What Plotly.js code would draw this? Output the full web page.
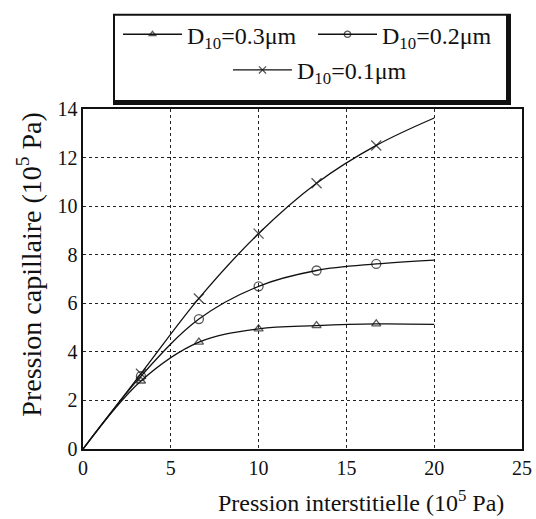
<!DOCTYPE html>
<html><head><meta charset="utf-8">
<script src="https://cdn.plot.ly/plotly-3.0.1.min.js"></script>
<style>body{margin:0;background:#fff}#c{width:536px;height:519px}</style>
</head><body><div id="c"></div>
<script>
// Data
const xPts = [0, 3.3, 6.6, 10, 13.3, 16.7, 20];
const y03 = [0, 2.8, 4.4, 4.95, 5.08, 5.15, 5.13];
const y02 = [0, 3.0, 5.35, 6.7, 7.35, 7.62, 7.78];
const y01 = [0, 3.1, 6.2, 8.87, 10.94, 12.5, 13.63];
const names = ["D<sub>10</sub>=0.3μm", "D<sub>10</sub>=0.2μm", "D<sub>10</sub>=0.1μm"];
const symbols = ["triangle-up-open", "circle-open", "x-thin-open"];
const markerShown = [0, 1, 1, 1, 1, 1, 0];
const xTitle = "Pression interstitielle (10<sup>5</sup> Pa)";
const yTitle = "Pression capillaire (10<sup>5</sup> Pa)";

const font = "Liberation Serif";
const series = [y03, y02, y01];
const legendIds = ["legend", "legend2", "legend3"];
const mSizes = [8, 9, 10];
const traces = series.map((ys, i) => ({
  x: xPts, y: ys, name: names[i], type: "scatter", mode: "lines+markers",
  line: {color: "#111", width: 1.3, shape: "spline", smoothing: 1},
  marker: {symbol: symbols[i], size: markerShown.map(v => v * mSizes[i]), color: "#111",
           line: {color: "#111", width: 1.3}},
  legend: legendIds[i]
}));

const W = 536, H = 519, L = 83, R = 14, T = 106, B = 70;
const pw = W - L - R, ph = H - T - B;
const px = v => (v - L) / pw;
const py = v => (H - B - v) / ph;

const legStyle = (x, y) => ({
  orientation: "h", x: px(x), y: py(y), xanchor: "left", yanchor: "middle",
  bgcolor: "rgba(0,0,0,0)", borderwidth: 0, itemwidth: 59,
  font: {family: font, size: 24, color: "#111"}
});

const layout = {
  width: W, height: H,
  margin: {l: L, r: R, t: T, b: B},
  paper_bgcolor: "#fff", plot_bgcolor: "#fff",
  font: {family: font, color: "#111", size: 20},
  showlegend: true,
  xaxis: {range: [0, 25], dtick: 5, tick0: 0, showgrid: true, gridcolor: "#222", griddash: "dot",
          gridwidth: 1, zeroline: false, showline: true, mirror: true, linecolor: "#111",
          linewidth: 1.6, ticks: "", tickfont: {family: font, size: 20}, fixedrange: true},
  yaxis: {range: [0, 14], dtick: 2, tick0: 0, showgrid: true, gridcolor: "#222", griddash: "dot",
          gridwidth: 1, zeroline: false, showline: true, mirror: true, linecolor: "#111",
          linewidth: 1.6, ticks: "", tickfont: {family: font, size: 20}, fixedrange: true},
  annotations: [
    {text: xTitle, xref: "paper", yref: "paper", x: px(361), y: py(501), xanchor: "center",
     yanchor: "middle", showarrow: false, font: {family: font, size: 24, color: "#111"}},
    {text: yTitle, xref: "paper", yref: "paper", x: px(30), y: py(263), xanchor: "center",
     yanchor: "middle", textangle: -90, showarrow: false, font: {family: font, size: 28, color: "#111"}}
  ],
  legend: legStyle(118, 31),
  legend2: legStyle(313, 31),
  legend3: legStyle(228, 67),
  shapes: [
    {type: "rect", xref: "paper", yref: "paper", x0: px(113), x1: px(511), y0: py(102), y1: py(10),
     fillcolor: "#111", line: {width: 0}, layer: "above"},
    {type: "rect", xref: "paper", yref: "paper", x0: px(115), x1: px(506), y0: py(97), y1: py(12),
     fillcolor: "#fff", line: {width: 0}, layer: "above"}
  ]
};
Plotly.newPlot("c", traces, layout, {staticPlot: true});
</script></body></html>
